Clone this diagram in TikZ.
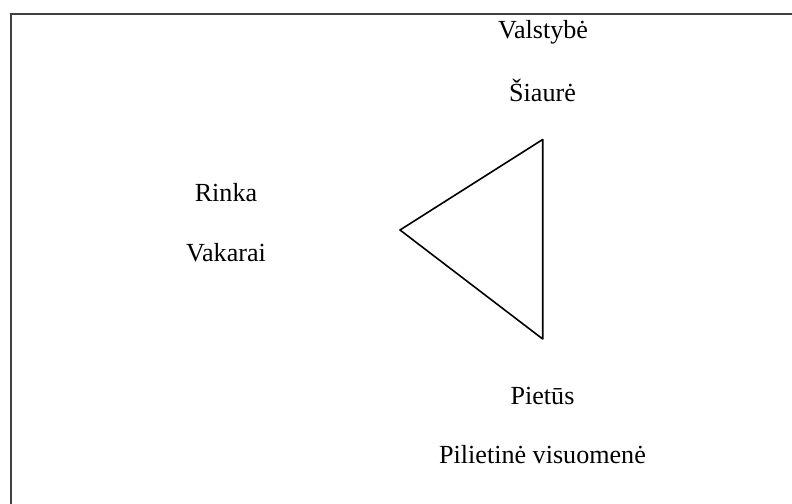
\documentclass[tikz,border=0pt]{standalone}
\usepackage{fontspec}
\setmainfont{Liberation Serif}
\begin{document}
\begin{tikzpicture}[x=1bp,y=-1bp,
	txt/.style={anchor=base,inner sep=0,outer sep=0,font=\fontsize{26.2}{30}\selectfont},
	side/.style={line width=1.6bp,line join=round}]
	\clip (0,0) rectangle (792,504);
	\useasboundingbox (0,0) rectangle (792,504);
	\draw[line width=1.4bp,black!75] (11,14) rectangle (820,530);
	\node[txt] (valstybe) at (543,38.3) {Valstybė};
	\node[txt] (siaure) at (542.5,101.7) {Šiaurė};
	\node[txt] (rinka) at (226,201.7) {Rinka};
	\node[txt] (vakarai) at (226,261.7) {Vakarai};
	\node[txt] (pietus) at (542.5,404) {Pietūs};
	\node[txt] (visuomene) at (542.5,463) {Pilietinė visuomenė};
	\coordinate (n) at (542.7,139.5);
	\coordinate (w) at (400,230);
	\coordinate (s) at (542.7,339);
	\draw[side] (n) -- (w) -- (s) -- cycle;
\end{tikzpicture}
\end{document}
